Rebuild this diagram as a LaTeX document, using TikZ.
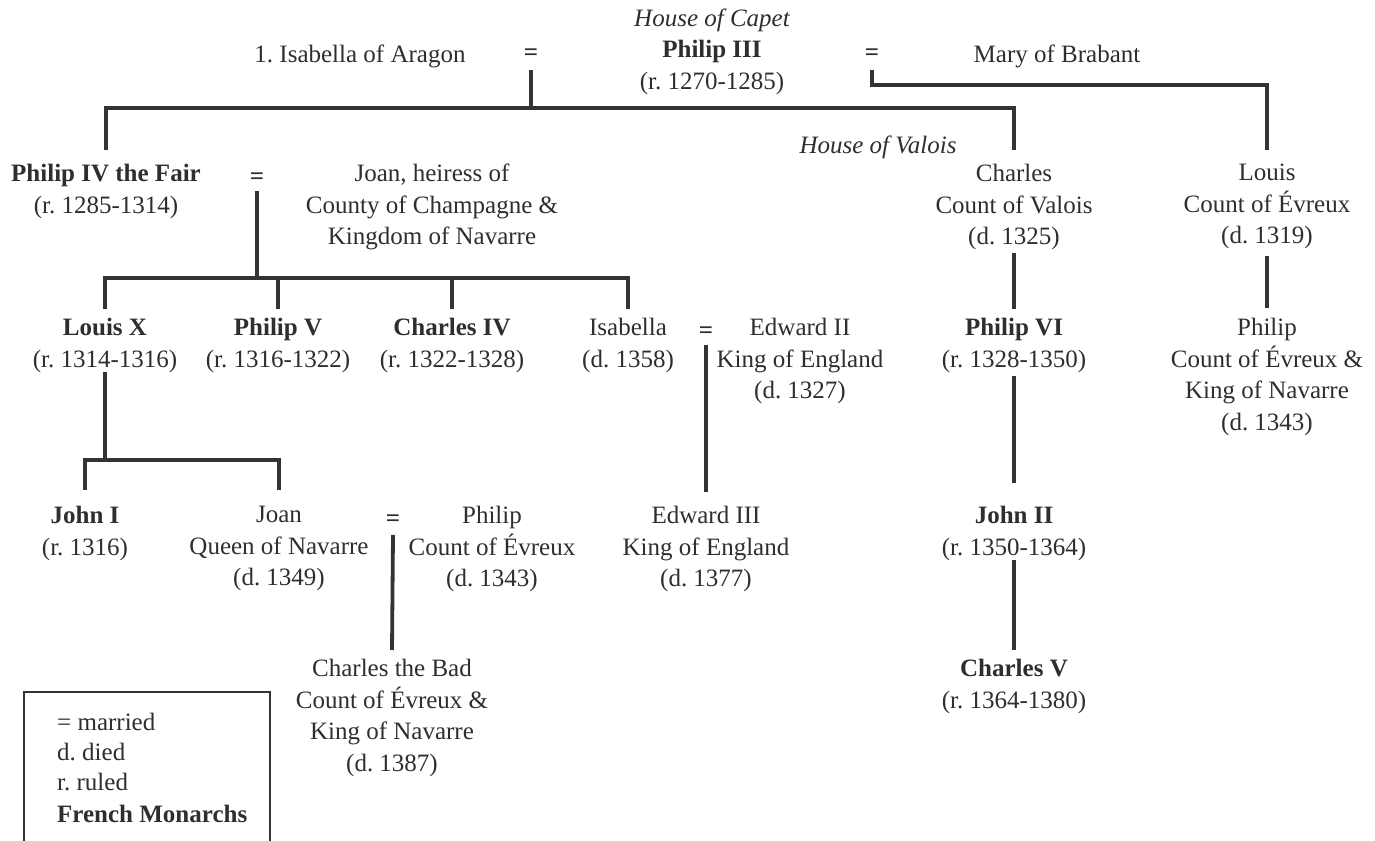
\documentclass[tikz,border=0pt]{standalone}
\usepackage{fontspec}
\setmainfont{Liberation Serif}
\frenchspacing
\definecolor{ink}{HTML}{2E2E2E}
\definecolor{wire}{HTML}{333333}
\newcommand{\mrg}{\raisebox{2pt}{\textbf{=}}}
\tikzset{
  person/.style={align=center, inner sep=0pt, anchor=north, text=ink,
    font=\fontsize{25}{31.5}\selectfont\frenchspacing, execute at begin node=\strut},
  conn/.style={draw=wire, line width=3.8pt},
}
\begin{document}
\begin{tikzpicture}[x=1pt,y=-1pt]
\useasboundingbox (0,0) rectangle (1375,840);
% row 0
\node[person] (capet) at (712,4) {\itshape House of Capet};
\node[person] (isaA) at (360,40) {1. Isabella of Aragon};
\node[person] (eqA) at (531,40) {\mrg};
\node[person] (ph3) at (712,40) {\textbf{Philip III}\\(r. 1270-1285)};
\node[person] (eqB) at (872,40) {\mrg};
\node[person] (mary) at (1057,40) {Mary of Brabant};
\node[person] (valois) at (878,131) {\itshape House of Valois};
% row 1
\node[person] (ph4) at (106,164) {\textbf{Philip IV the Fair}\\(r. 1285-1314)};
\node[person] (eqC) at (257,164) {\mrg};
\node[person] (joanH) at (432,164) {Joan, heiress of\\County of Champagne \&\\Kingdom of Navarre};
\node[person] (chV) at (1014,164) {Charles\\Count of Valois\\(d. 1325)};
\node[person] (louisE) at (1267,164) {Louis\\Count of Évreux\\(d. 1319)};
% row 2
\node[person] (lx) at (105,318) {\textbf{Louis X}\\(r. 1314-1316)};
\node[person] (p5) at (278,318) {\textbf{Philip V}\\(r. 1316-1322)};
\node[person] (c4) at (452,318) {\textbf{Charles IV}\\(r. 1322-1328)};
\node[person] (isab) at (628,318) {Isabella\\(d. 1358)};
\node[person] (eqD) at (706,318) {\mrg};
\node[person] (ed2) at (800,318) {Edward II\\King of England\\(d. 1327)};
\node[person] (p6) at (1014,318) {\textbf{Philip VI}\\(r. 1328-1350)};
\node[person] (phE) at (1267,318) {Philip\\Count of Évreux \&\\King of Navarre\\(d. 1343)};
% row 3
\node[person] (j1) at (85,506) {\textbf{John I}\\(r. 1316)};
\node[person] (joanQ) at (279,506) {Joan\\Queen of Navarre\\(d. 1349)};
\node[person] (eqE) at (393,506) {\mrg};
\node[person] (phE2) at (492,506) {Philip\\Count of Évreux\\(d. 1343)};
\node[person] (ed3) at (706,506) {Edward III\\King of England\\(d. 1377)};
\node[person] (j2) at (1014,506) {\textbf{John II}\\(r. 1350-1364)};
% row 4
\node[person] (cBad) at (392,659) {Charles the Bad\\Count of Évreux \&\\King of Navarre\\(d. 1387)};
\node[person] (c5) at (1014,659) {\textbf{Charles V}\\(r. 1364-1380)};
% buses
\coordinate (bus1) at (0,108);
\coordinate (bus2) at (0,85);
\coordinate (bus3) at (0,278);
\coordinate (bus4) at (0,460);
% connectors
\draw[conn] ([yshift=2pt]eqA.south) -- (eqA.south |- bus1);
\draw[conn] ([yshift=14pt]ph4.north) |- (bus1 -| chV.north) -- ([yshift=14pt]chV.north);
\draw[conn] ([yshift=2pt]eqB.south) |- (bus2 -| louisE.north) -- ([yshift=14pt]louisE.north);
\draw[conn] ([yshift=5pt]eqC.south) -- (eqC.south |- bus3);
\draw[conn] ([yshift=9pt]lx.north) |- (bus3 -| isab.north) -- ([yshift=9pt]isab.north);
\draw[conn] ([yshift=9pt]p5.north) -- (p5.north |- bus3);
\draw[conn] ([yshift=9pt]c4.north) -- (c4.north |- bus3);
\draw[conn] ([yshift=1pt]chV.south) -- ([yshift=9pt]p6.north);
\draw[conn] ([yshift=-3pt]louisE.south) -- ([yshift=10pt]phE.north);
\draw[conn] ([yshift=5pt]lx.south) -- (lx.south |- bus4);
\draw[conn] ([yshift=16pt]j1.north) |- (bus4 -| joanQ.north) -- ([yshift=16pt]joanQ.north);
\draw[conn] ([yshift=5pt]eqD.south) -- ([yshift=14pt]ed3.north);
\draw[conn] ([yshift=1pt]p6.south) -- ([yshift=23pt]j2.north);
\draw[conn] ([yshift=3pt]eqE.south) -- ([yshift=9pt]cBad.north);
\draw[conn] ([yshift=5pt]j2.south) -- ([yshift=9pt]c5.north);
% legend
\draw[draw=wire, line width=1.2pt] (24,845) -- (24,692) -- (270,692) -- (270,845);
\node[person, anchor=north west, align=left, font=\fontsize{25}{30}\selectfont\frenchspacing] (legend) at (57,713)
  {= married\\d. died\\r. ruled\\[2pt]\textbf{French Monarchs}};
\end{tikzpicture}
\end{document}
